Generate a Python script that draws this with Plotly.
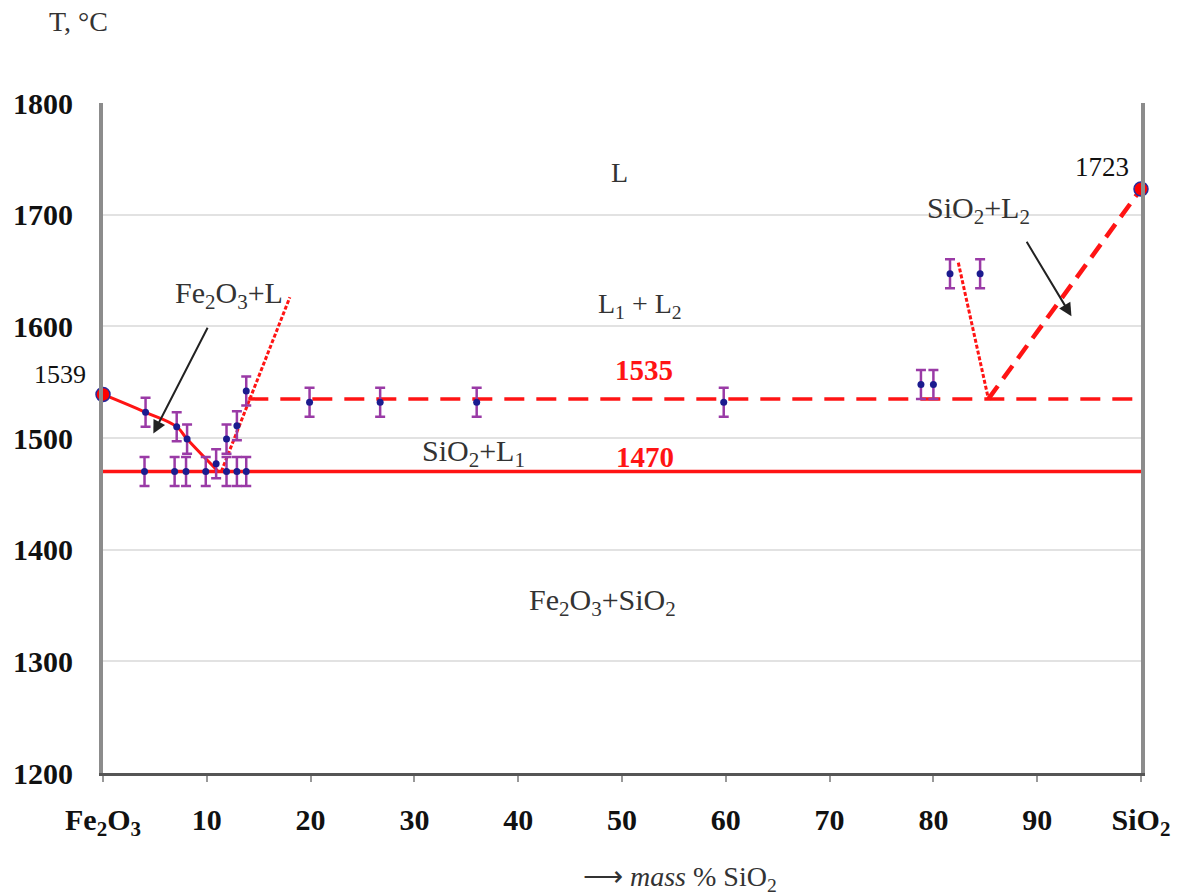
import plotly.graph_objects as go

# Fe2O3 - SiO2 phase diagram, temperature in °C vs mass % SiO2
x_ticks = [0, 10, 20, 30, 40, 50, 60, 70, 80, 90, 100]
x_tick_text = ["Fe<sub>2</sub>O<sub>3</sub>", "10", "20", "30", "40", "50",
               "60", "70", "80", "90", "SiO<sub>2</sub>"]
y_ticks = [1200, 1300, 1400, 1500, 1600, 1700, 1800]

# measured thermal arrests (with experimental uncertainty)
solidus_x = [4.0, 6.9, 8.0, 9.9, 11.9, 12.9, 13.8]
solidus_t = [1470, 1470, 1470, 1470, 1470, 1470, 1470]
liquidus_x = [4.1, 7.1, 8.1, 10.9, 11.9, 12.9, 13.8]
liquidus_t = [1523, 1510, 1499, 1477, 1499, 1511, 1542]
monotectic_x = [19.9, 26.7, 36.0, 59.8, 78.8, 80.0]
monotectic_t = [1532, 1532, 1532, 1532, 1548, 1548]
miscibility_x = [81.6, 84.5]
miscibility_t = [1647, 1647]
t_error = 13

# pure-component melting points
pure_x = [0, 100]
pure_t = [1539, 1723]

# phase boundaries
fe2o3_liquidus_x = [0, 4.1, 7.1, 8.1, 11.1]
fe2o3_liquidus_t = [1539, 1523, 1510, 1499, 1470]
eutectic_x = [0, 100]
eutectic_t = [1470, 1470]
monotectic_line_x = [14.0, 100]
monotectic_line_t = [1535, 1535]
l1_boundary_x = [11.4, 18.0]
l1_boundary_t = [1470, 1626]
l2_boundary_x = [82.4, 85.3]
l2_boundary_t = [1657, 1535]
sio2_liquidus_x = [85.3, 100]
sio2_liquidus_t = [1535, 1723]

RED = "#ff1414"
SERIF = "Liberation Serif"

fig = go.Figure()

fig.add_trace(go.Scatter(x=eutectic_x, y=eutectic_t, mode="lines",
                         line=dict(color=RED, width=3.5), cliponaxis=False))
fig.add_trace(go.Scatter(x=monotectic_line_x, y=monotectic_line_t, mode="lines",
                         line=dict(color=RED, width=3.5, dash="20px,12px")))
fig.add_trace(go.Scatter(x=fe2o3_liquidus_x, y=fe2o3_liquidus_t, mode="lines",
                         line=dict(color=RED, width=3, shape="spline", smoothing=1.2),
                         cliponaxis=False))
fig.add_trace(go.Scatter(x=l1_boundary_x, y=l1_boundary_t, mode="lines",
                         line=dict(color=RED, width=3, dash="4px,2px")))
fig.add_trace(go.Scatter(x=l2_boundary_x, y=l2_boundary_t, mode="lines",
                         line=dict(color=RED, width=3, dash="4px,2px")))
fig.add_trace(go.Scatter(x=sio2_liquidus_x, y=sio2_liquidus_t, mode="lines",
                         line=dict(color=RED, width=4.5, dash="16px,9px"),
                         cliponaxis=False))

for xs, ts in [(solidus_x, solidus_t), (liquidus_x, liquidus_t),
               (monotectic_x, monotectic_t), (miscibility_x, miscibility_t)]:
    fig.add_trace(go.Scatter(
        x=xs, y=ts, mode="markers",
        marker=dict(color="#1b1b8f", size=7, symbol="circle"),
        error_y=dict(type="constant", value=t_error, color="#9a3aa6",
                     thickness=2.5, width=5),
    ))

fig.add_trace(go.Scatter(x=pure_x, y=pure_t, mode="markers", cliponaxis=False,
                         marker=dict(color="#ff0000", size=14,
                                     line=dict(color="#2a2a9a", width=1.5))))

def label(x, y, text, size=28, color="#333333", **kw):
    fig.add_annotation(x=x, y=y, text=text, showarrow=False,
                       xanchor="center", yanchor="middle",
                       font=dict(family=SERIF, size=size, color=color), **kw)

label(49.8, 1738, "L")
label(51.7, 1619, "L<sub>1</sub> + L<sub>2</sub>")
label(12.1, 1628, "Fe<sub>2</sub>O<sub>3</sub>+L", size=30)
label(52.1, 1561, "<b>1535</b>", size=29, color=RED)
label(35.7, 1487, "SiO<sub>2</sub>+L<sub>1</sub>", size=30)
label(52.2, 1483, "<b>1470</b>", size=29, color=RED)
label(48.1, 1353, "Fe<sub>2</sub>O<sub>3</sub>+SiO<sub>2</sub>", size=30)
label(84.3, 1704, "SiO<sub>2</sub>+L<sub>2</sub>", size=30)
label(96.2, 1743, "1723", size=27, color="#111111", bgcolor="white")
label(-0.041, 1557, "1539", size=26, color="#111111", xref="paper")

# leader arrows
fig.add_annotation(x=4.85, y=1504, ax=10.15, ay=1600, axref="x", ayref="y",
                   text="", showarrow=True, arrowhead=2, arrowsize=1.3,
                   arrowwidth=2, arrowcolor="#222222")
fig.add_annotation(x=93.3, y=1609, ax=88.9, ay=1677, axref="x", ayref="y",
                   text="", showarrow=True, arrowhead=2, arrowsize=1.3,
                   arrowwidth=2, arrowcolor="#222222")

# axis titles
label(-0.024, 1.121, "T, °C", xref="paper", yref="paper")
label(0.556, -0.157, "⟶ <i>mass</i> % SiO<sub>2</sub>", size=28,
      xref="paper", yref="paper")

fig.update_layout(
    width=1178, height=895,
    margin=dict(l=103, r=37, t=103, b=122, autoexpand=False),
    paper_bgcolor="white", plot_bgcolor="white",
    showlegend=False,
    xaxis=dict(range=[0, 100], tickvals=x_ticks, automargin=False,
               ticktext=["<b>%s</b>" % t for t in x_tick_text],
               tickfont=dict(family=SERIF, size=30, color="#111111"),
               showgrid=False, zeroline=False,
               showline=True, linecolor="#555555", linewidth=3,
               ticks="outside", ticklen=6, tickwidth=2, tickcolor="#999999",
               ticklabelstandoff=12),
    yaxis=dict(range=[1200, 1800], tickvals=y_ticks, automargin=False,
               ticktext=["<b>%d</b>" % t for t in y_ticks],
               tickfont=dict(family=SERIF, size=30, color="#111111"),
               showgrid=True, gridcolor="#e2e2e2", gridwidth=2, zeroline=False,
               showline=True, linecolor="#8c8c8c", linewidth=4, mirror=True,
               ticks="", ticklabelstandoff=20),
)

fig.write_html("out.html")
